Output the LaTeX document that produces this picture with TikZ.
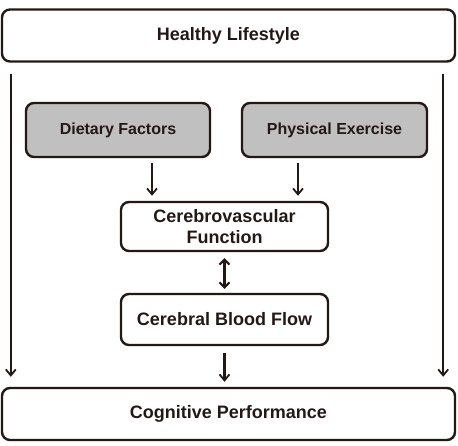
\documentclass[tikz,border=0pt]{standalone}
\usepackage{fontspec}
\setmainfont{Liberation Sans}
\usetikzlibrary{arrows.meta}
\definecolor{ink}{RGB}{35,24,21}
\definecolor{boxgray}{RGB}{192,192,192}
\tikzset{
  box/.style={draw=ink, line width=2.4pt, rounded corners=8pt, text=ink,
    font=\fontsize{18}{21}\selectfont\bfseries, align=center, inner sep=0pt},
  graybox/.style={box, fill=boxgray, font=\fontsize{16}{19}\selectfont\bfseries},
  arr/.style={draw=ink, line width=1.8pt, -{Straight Barb[length=6pt,width=10pt,line width=1.8pt]}},
  darr/.style={draw=ink, line width=2.2pt, {Straight Barb[length=5pt,width=10pt,line width=2pt]}-{Straight Barb[length=5pt,width=10pt,line width=2pt]}}
}
\begin{document}
\begin{tikzpicture}[x=1pt,y=1pt]
\useasboundingbox (0,0) rectangle (458,446);
\node[box, minimum width=453pt, minimum height=52pt] (top) at (228.5,410.5) {Healthy Lifestyle};
\node[graybox, minimum width=184pt, minimum height=54pt] (diet) at (118,316) {Dietary Factors};
\node[graybox, minimum width=185pt, minimum height=54pt] (phys) at (334.5,316) {Physical Exercise};
\node[box, minimum width=207pt, minimum height=49pt] (cv) at (224.5,219.5) {Cerebrovascular\\Function};
\node[box, minimum width=207pt, minimum height=51pt] (cbf) at (224.5,126.5) {Cerebral Blood Flow};
\node[box, minimum width=453pt, minimum height=52pt] (cog) at (228.5,32) {Cognitive Performance};
\draw[arr, line width=1.5pt, shorten <=5pt, shorten >=5pt] ([xshift=34pt]diet.south) -- ([xshift=34pt]diet.south |- cv.north);
\draw[arr, line width=2.2pt, shorten <=5pt, shorten >=5pt] ([xshift=-36.5pt]phys.south) -- ([xshift=-36.5pt]phys.south |- cv.north);
\draw[darr, shorten <=6pt, shorten >=4pt] (cv.south) -- (cbf.north);
\draw[arr, line width=2.2pt, shorten <=7pt, shorten >=5pt] (cbf.south) -- (cbf.south |- cog.north);
\draw[arr, shorten <=11pt, shorten >=10pt] ([xshift=10pt]top.south west) -- ([xshift=10pt]cog.north west);
\draw[arr, shorten <=11pt, shorten >=10pt] ([xshift=-13pt]top.south east) -- ([xshift=-13pt]cog.north east);
\end{tikzpicture}
\end{document}
